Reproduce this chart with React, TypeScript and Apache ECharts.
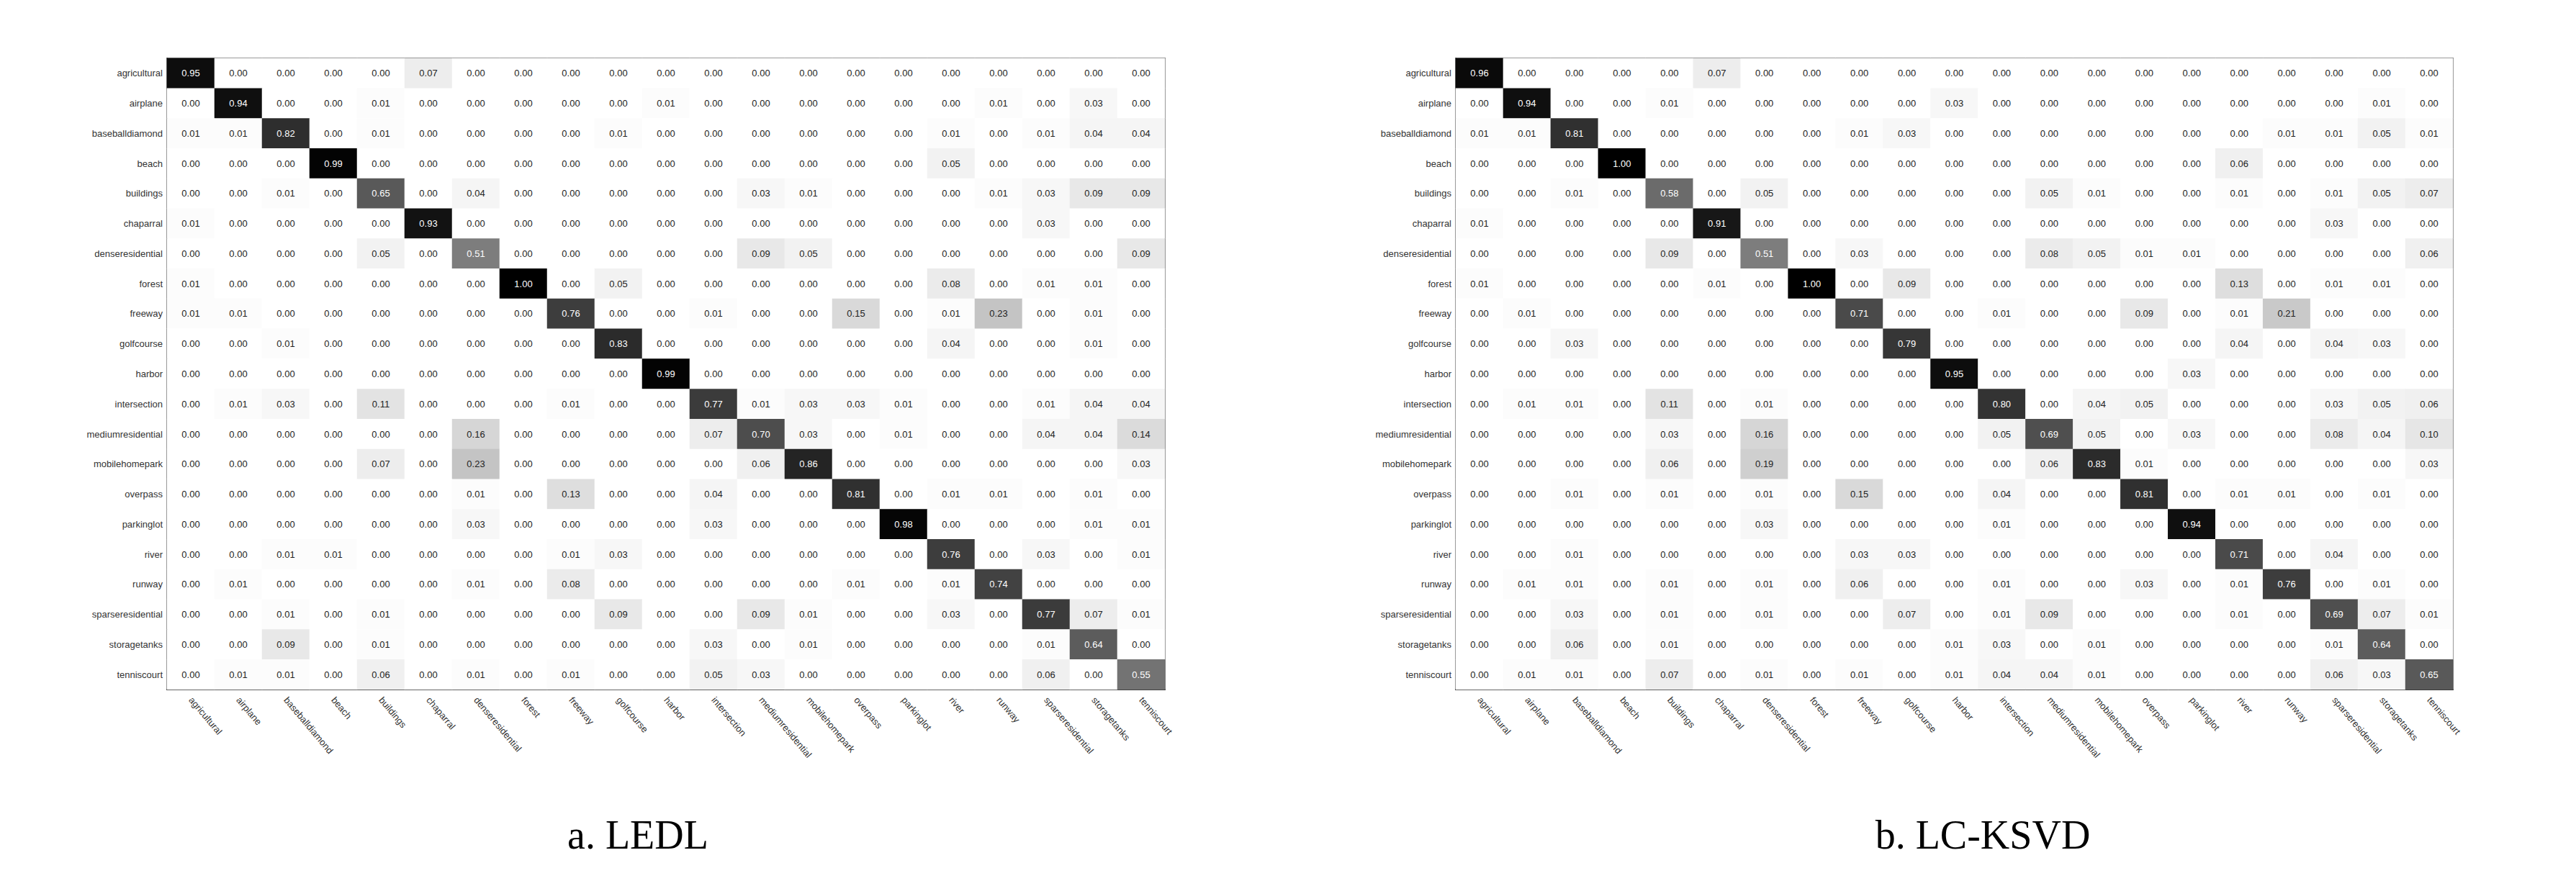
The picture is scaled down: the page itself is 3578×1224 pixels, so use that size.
import React, { useEffect, useRef } from "react";
import * as echarts from "echarts";

const categories = [
  "agricultural", "airplane", "baseballdiamond", "beach", "buildings", "chaparral",
  "denseresidential", "forest", "freeway", "golfcourse", "harbor", "intersection",
  "mediumresidential", "mobilehomepark", "overpass", "parkinglot", "river", "runway",
  "sparseresidential", "storagetanks", "tenniscourt",
];

const captions = ["a. LEDL", "b. LC-KSVD"];

// rows = true class, columns = predicted class
const ledl = [
  [0.95, 0.00, 0.00, 0.00, 0.00, 0.07, 0.00, 0.00, 0.00, 0.00, 0.00, 0.00, 0.00, 0.00, 0.00, 0.00, 0.00, 0.00, 0.00, 0.00, 0.00],
  [0.00, 0.94, 0.00, 0.00, 0.01, 0.00, 0.00, 0.00, 0.00, 0.00, 0.01, 0.00, 0.00, 0.00, 0.00, 0.00, 0.00, 0.01, 0.00, 0.03, 0.00],
  [0.01, 0.01, 0.82, 0.00, 0.01, 0.00, 0.00, 0.00, 0.00, 0.01, 0.00, 0.00, 0.00, 0.00, 0.00, 0.00, 0.01, 0.00, 0.01, 0.04, 0.04],
  [0.00, 0.00, 0.00, 0.99, 0.00, 0.00, 0.00, 0.00, 0.00, 0.00, 0.00, 0.00, 0.00, 0.00, 0.00, 0.00, 0.05, 0.00, 0.00, 0.00, 0.00],
  [0.00, 0.00, 0.01, 0.00, 0.65, 0.00, 0.04, 0.00, 0.00, 0.00, 0.00, 0.00, 0.03, 0.01, 0.00, 0.00, 0.00, 0.01, 0.03, 0.09, 0.09],
  [0.01, 0.00, 0.00, 0.00, 0.00, 0.93, 0.00, 0.00, 0.00, 0.00, 0.00, 0.00, 0.00, 0.00, 0.00, 0.00, 0.00, 0.00, 0.03, 0.00, 0.00],
  [0.00, 0.00, 0.00, 0.00, 0.05, 0.00, 0.51, 0.00, 0.00, 0.00, 0.00, 0.00, 0.09, 0.05, 0.00, 0.00, 0.00, 0.00, 0.00, 0.00, 0.09],
  [0.01, 0.00, 0.00, 0.00, 0.00, 0.00, 0.00, 1.00, 0.00, 0.05, 0.00, 0.00, 0.00, 0.00, 0.00, 0.00, 0.08, 0.00, 0.01, 0.01, 0.00],
  [0.01, 0.01, 0.00, 0.00, 0.00, 0.00, 0.00, 0.00, 0.76, 0.00, 0.00, 0.01, 0.00, 0.00, 0.15, 0.00, 0.01, 0.23, 0.00, 0.01, 0.00],
  [0.00, 0.00, 0.01, 0.00, 0.00, 0.00, 0.00, 0.00, 0.00, 0.83, 0.00, 0.00, 0.00, 0.00, 0.00, 0.00, 0.04, 0.00, 0.00, 0.01, 0.00],
  [0.00, 0.00, 0.00, 0.00, 0.00, 0.00, 0.00, 0.00, 0.00, 0.00, 0.99, 0.00, 0.00, 0.00, 0.00, 0.00, 0.00, 0.00, 0.00, 0.00, 0.00],
  [0.00, 0.01, 0.03, 0.00, 0.11, 0.00, 0.00, 0.00, 0.01, 0.00, 0.00, 0.77, 0.01, 0.03, 0.03, 0.01, 0.00, 0.00, 0.01, 0.04, 0.04],
  [0.00, 0.00, 0.00, 0.00, 0.00, 0.00, 0.16, 0.00, 0.00, 0.00, 0.00, 0.07, 0.70, 0.03, 0.00, 0.01, 0.00, 0.00, 0.04, 0.04, 0.14],
  [0.00, 0.00, 0.00, 0.00, 0.07, 0.00, 0.23, 0.00, 0.00, 0.00, 0.00, 0.00, 0.06, 0.86, 0.00, 0.00, 0.00, 0.00, 0.00, 0.00, 0.03],
  [0.00, 0.00, 0.00, 0.00, 0.00, 0.00, 0.01, 0.00, 0.13, 0.00, 0.00, 0.04, 0.00, 0.00, 0.81, 0.00, 0.01, 0.01, 0.00, 0.01, 0.00],
  [0.00, 0.00, 0.00, 0.00, 0.00, 0.00, 0.03, 0.00, 0.00, 0.00, 0.00, 0.03, 0.00, 0.00, 0.00, 0.98, 0.00, 0.00, 0.00, 0.01, 0.01],
  [0.00, 0.00, 0.01, 0.01, 0.00, 0.00, 0.00, 0.00, 0.01, 0.03, 0.00, 0.00, 0.00, 0.00, 0.00, 0.00, 0.76, 0.00, 0.03, 0.00, 0.01],
  [0.00, 0.01, 0.00, 0.00, 0.00, 0.00, 0.01, 0.00, 0.08, 0.00, 0.00, 0.00, 0.00, 0.00, 0.01, 0.00, 0.01, 0.74, 0.00, 0.00, 0.00],
  [0.00, 0.00, 0.01, 0.00, 0.01, 0.00, 0.00, 0.00, 0.00, 0.09, 0.00, 0.00, 0.09, 0.01, 0.00, 0.00, 0.03, 0.00, 0.77, 0.07, 0.01],
  [0.00, 0.00, 0.09, 0.00, 0.01, 0.00, 0.00, 0.00, 0.00, 0.00, 0.00, 0.03, 0.00, 0.01, 0.00, 0.00, 0.00, 0.00, 0.01, 0.64, 0.00],
  [0.00, 0.01, 0.01, 0.00, 0.06, 0.00, 0.01, 0.00, 0.01, 0.00, 0.00, 0.05, 0.03, 0.00, 0.00, 0.00, 0.00, 0.00, 0.06, 0.00, 0.55],
];

const lcksvd = [
  [0.96, 0.00, 0.00, 0.00, 0.00, 0.07, 0.00, 0.00, 0.00, 0.00, 0.00, 0.00, 0.00, 0.00, 0.00, 0.00, 0.00, 0.00, 0.00, 0.00, 0.00],
  [0.00, 0.94, 0.00, 0.00, 0.01, 0.00, 0.00, 0.00, 0.00, 0.00, 0.03, 0.00, 0.00, 0.00, 0.00, 0.00, 0.00, 0.00, 0.00, 0.01, 0.00],
  [0.01, 0.01, 0.81, 0.00, 0.00, 0.00, 0.00, 0.00, 0.01, 0.03, 0.00, 0.00, 0.00, 0.00, 0.00, 0.00, 0.00, 0.01, 0.01, 0.05, 0.01],
  [0.00, 0.00, 0.00, 1.00, 0.00, 0.00, 0.00, 0.00, 0.00, 0.00, 0.00, 0.00, 0.00, 0.00, 0.00, 0.00, 0.06, 0.00, 0.00, 0.00, 0.00],
  [0.00, 0.00, 0.01, 0.00, 0.58, 0.00, 0.05, 0.00, 0.00, 0.00, 0.00, 0.00, 0.05, 0.01, 0.00, 0.00, 0.01, 0.00, 0.01, 0.05, 0.07],
  [0.01, 0.00, 0.00, 0.00, 0.00, 0.91, 0.00, 0.00, 0.00, 0.00, 0.00, 0.00, 0.00, 0.00, 0.00, 0.00, 0.00, 0.00, 0.03, 0.00, 0.00],
  [0.00, 0.00, 0.00, 0.00, 0.09, 0.00, 0.51, 0.00, 0.03, 0.00, 0.00, 0.00, 0.08, 0.05, 0.01, 0.01, 0.00, 0.00, 0.00, 0.00, 0.06],
  [0.01, 0.00, 0.00, 0.00, 0.00, 0.01, 0.00, 1.00, 0.00, 0.09, 0.00, 0.00, 0.00, 0.00, 0.00, 0.00, 0.13, 0.00, 0.01, 0.01, 0.00],
  [0.00, 0.01, 0.00, 0.00, 0.00, 0.00, 0.00, 0.00, 0.71, 0.00, 0.00, 0.01, 0.00, 0.00, 0.09, 0.00, 0.01, 0.21, 0.00, 0.00, 0.00],
  [0.00, 0.00, 0.03, 0.00, 0.00, 0.00, 0.00, 0.00, 0.00, 0.79, 0.00, 0.00, 0.00, 0.00, 0.00, 0.00, 0.04, 0.00, 0.04, 0.03, 0.00],
  [0.00, 0.00, 0.00, 0.00, 0.00, 0.00, 0.00, 0.00, 0.00, 0.00, 0.95, 0.00, 0.00, 0.00, 0.00, 0.03, 0.00, 0.00, 0.00, 0.00, 0.00],
  [0.00, 0.01, 0.01, 0.00, 0.11, 0.00, 0.01, 0.00, 0.00, 0.00, 0.00, 0.80, 0.00, 0.04, 0.05, 0.00, 0.00, 0.00, 0.03, 0.05, 0.06],
  [0.00, 0.00, 0.00, 0.00, 0.03, 0.00, 0.16, 0.00, 0.00, 0.00, 0.00, 0.05, 0.69, 0.05, 0.00, 0.03, 0.00, 0.00, 0.08, 0.04, 0.10],
  [0.00, 0.00, 0.00, 0.00, 0.06, 0.00, 0.19, 0.00, 0.00, 0.00, 0.00, 0.00, 0.06, 0.83, 0.01, 0.00, 0.00, 0.00, 0.00, 0.00, 0.03],
  [0.00, 0.00, 0.01, 0.00, 0.01, 0.00, 0.01, 0.00, 0.15, 0.00, 0.00, 0.04, 0.00, 0.00, 0.81, 0.00, 0.01, 0.01, 0.00, 0.01, 0.00],
  [0.00, 0.00, 0.00, 0.00, 0.00, 0.00, 0.03, 0.00, 0.00, 0.00, 0.00, 0.01, 0.00, 0.00, 0.00, 0.94, 0.00, 0.00, 0.00, 0.00, 0.00],
  [0.00, 0.00, 0.01, 0.00, 0.00, 0.00, 0.00, 0.00, 0.03, 0.03, 0.00, 0.00, 0.00, 0.00, 0.00, 0.00, 0.71, 0.00, 0.04, 0.00, 0.00],
  [0.00, 0.01, 0.01, 0.00, 0.01, 0.00, 0.01, 0.00, 0.06, 0.00, 0.00, 0.01, 0.00, 0.00, 0.03, 0.00, 0.01, 0.76, 0.00, 0.01, 0.00],
  [0.00, 0.00, 0.03, 0.00, 0.01, 0.00, 0.01, 0.00, 0.00, 0.07, 0.00, 0.01, 0.09, 0.00, 0.00, 0.00, 0.01, 0.00, 0.69, 0.07, 0.01],
  [0.00, 0.00, 0.06, 0.00, 0.01, 0.00, 0.00, 0.00, 0.00, 0.00, 0.01, 0.03, 0.00, 0.01, 0.00, 0.00, 0.00, 0.00, 0.01, 0.64, 0.00],
  [0.00, 0.01, 0.01, 0.00, 0.07, 0.00, 0.01, 0.00, 0.01, 0.00, 0.01, 0.04, 0.04, 0.01, 0.00, 0.00, 0.00, 0.00, 0.06, 0.03, 0.65],
];

const matrices = [ledl, lcksvd];

const SANS = "'Liberation Sans Narrow', 'Arial Narrow', 'Liberation Sans', Arial, sans-serif";
const SERIF = "'Liberation Serif', 'Times New Roman', serif";

const gridPos = [
  { left: 232, top: 81, width: 1386, height: 877 },
  { left: 2022, top: 81, width: 1385, height: 877 },
];
const captionX = [886, 2754];

export default function App() {
  const ref = useRef<HTMLDivElement>(null);

  useEffect(() => {
    if (!ref.current) return;
    const chart = echarts.init(ref.current, null, { renderer: "svg" });

    const toData = (m: number[][]) => {
      const out: any[] = [];
      m.forEach((row, i) =>
        row.forEach((v, j) => {
          out.push({
            value: [j, i, v],
            label: { color: v >= 0.5 ? "#ffffff" : "#222222" },
          });
        })
      );
      return out;
    };

    const option: any = {
      animation: false,
      backgroundColor: "#ffffff",
      grid: gridPos.map((g) => ({
        ...g,
        show: true,
        borderColor: "#777777",
        borderWidth: 2,
        backgroundColor: "#ffffff",
        containLabel: false,
      })),
      xAxis: gridPos.map((_, k) => ({
        type: "category",
        gridIndex: k,
        data: categories,
        position: "bottom",
        axisLine: { show: true, lineStyle: { color: "#333333", width: 2 } },
        axisTick: { show: false },
        splitLine: { show: false },
        axisLabel: {
          interval: 0,
          rotate: -50,
          margin: 12,
          fontSize: 13,
          color: "#333333",
          fontFamily: SANS,
        },
      })),
      yAxis: gridPos.map((_, k) => ({
        type: "category",
        gridIndex: k,
        data: categories,
        inverse: true,
        axisLine: { show: true, lineStyle: { color: "#111111", width: 1 } },
        axisTick: { show: false },
        splitLine: { show: false },
        axisLabel: {
          interval: 0,
          margin: 6,
          fontSize: 13,
          color: "#333333",
          fontFamily: SANS,
        },
      })),
      visualMap: matrices.map((_, k) => ({
        show: false,
        seriesIndex: k,
        dimension: 2,
        min: 0,
        max: 1,
        inRange: { color: ["#ffffff", "#000000"] },
      })),
      series: matrices.map((m, k) => ({
        type: "heatmap",
        xAxisIndex: k,
        yAxisIndex: k,
        data: toData(m),
        itemStyle: { borderWidth: 0 },
        emphasis: { disabled: true },
        label: {
          show: true,
          fontSize: 13,
          fontFamily: SANS,
          formatter: (p: any) => Number(p.value[2]).toFixed(2),
        },
      })),
      graphic: captions.map((c, k) => ({
        type: "text",
        x: captionX[k],
        y: 1160,
        style: {
          text: c,
          fontSize: 56,
          fontFamily: SERIF,
          fill: "#000000",
          align: "center",
          verticalAlign: "middle",
        },
      })),
    };

    chart.setOption(option);
    return () => chart.dispose();
  }, []);

  return (
    <div
      ref={ref}
      style={{ position: "fixed", left: 0, top: 0, width: 3578, height: 1224, background: "#fff" }}
    />
  );
}
